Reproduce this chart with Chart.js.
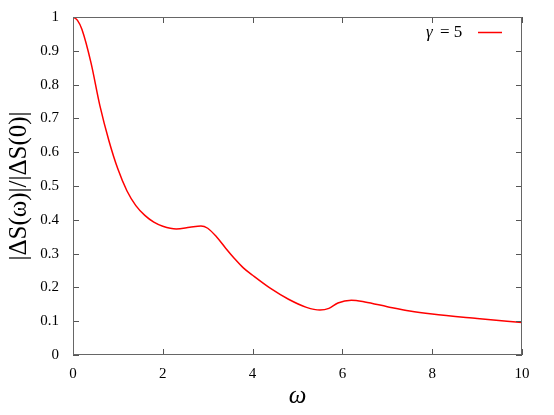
<!DOCTYPE html>
<html><head><meta charset="utf-8">
<script src="https://cdn.jsdelivr.net/npm/chart.js@4/dist/chart.umd.min.js"></script>
<style>html,body{margin:0;padding:0;background:#fff}#w{width:554px;height:415px}</style>
</head><body><div id="w"><canvas id="c"></canvas></div>
<script>
const omega = [0,0.1,0.2,0.4,0.6,0.8,1.0,1.2,1.4,1.6,1.8,2.0,2.3,2.6,2.85,3.0,3.2,3.4,3.6,3.8,4.0,4.4,4.8,5.2,5.5,5.7,5.9,6.2,6.5,7.0,7.5,8,9,10];
const ratio = [1.0,0.99,0.963,0.865,0.737,0.634,0.55,0.486,0.442,0.413,0.393,0.381,0.373,0.378,0.382,0.375,0.349,0.316,0.285,0.257,0.236,0.197,0.165,0.141,0.133,0.138,0.154,0.162,0.157,0.143,0.130,0.121,0.108,0.096];
const seriesLabel = 'γ = 5';
const xTicks = [0,2,4,6,8,10];
const yTicks = [0,0.1,0.2,0.3,0.4,0.5,0.6,0.7,0.8,0.9,1];
const SERIF = '"Liberation Serif", "DejaVu Serif", serif';

const ticksPlugin = {
  id:'inticks',
  afterDraw(chart){
    const {ctx, chartArea:a, scales:{x,y}} = chart;
    ctx.save();
    ctx.strokeStyle='#555'; ctx.lineWidth=1;
    ctx.beginPath();
    xTicks.forEach(v=>{const p=Math.round(x.getPixelForValue(v))+0.5;
      ctx.moveTo(p,a.bottom);ctx.lineTo(p,a.bottom-6);ctx.moveTo(p,a.top);ctx.lineTo(p,a.top+6);});
    yTicks.forEach(v=>{const p=Math.round(y.getPixelForValue(v))+0.5;
      ctx.moveTo(a.left,p);ctx.lineTo(a.left+6,p);ctx.moveTo(a.right,p);ctx.lineTo(a.right-6,p);});
    ctx.stroke();
    ctx.strokeStyle='#666';
    ctx.strokeRect(a.left+0.5,a.top+0.5,a.right-a.left-1,a.bottom-a.top-1);
    ctx.fillStyle='#000'; ctx.font='italic 17px '+SERIF; ctx.textBaseline='middle'; ctx.textAlign='left';
    ctx.fillText('γ', 426, 33);
    ctx.font='17px '+SERIF;
    ctx.fillText('= 5', 440, 33);
    ctx.strokeStyle='red'; ctx.lineWidth=1.5; ctx.beginPath(); ctx.moveTo(478,32.5); ctx.lineTo(502,32.5); ctx.stroke();
    ctx.restore();
  }
};

new Chart(document.getElementById('c'), {
  type:'line',
  data:{datasets:[{label:seriesLabel, data:omega.map((v,i)=>({x:v,y:ratio[i]})), borderColor:'red', borderWidth:1.5, pointRadius:0, cubicInterpolationMode:'monotone', fill:false}]},
  options:{
    responsive:true, maintainAspectRatio:false, animation:false,
    layout:{padding:{top:17,right:32,left:0,bottom:0}},
    plugins:{legend:{display:false}, tooltip:{enabled:false}},
    scales:{
      x:{type:'linear', min:0, max:10,
        afterBuildTicks(s){s.ticks=xTicks.map(v=>({value:v}));},
        afterFit(s){s.height=60;},
        grid:{display:false}, border:{display:false},
        ticks:{color:'#000', font:{family:SERIF,size:15}, padding:2, maxRotation:0},
        title:{display:true, text:'ω', color:'#000', font:{family:SERIF,size:25,style:'italic'}, padding:{top:4}}},
      y:{type:'linear', min:0, max:1,
        afterBuildTicks(s){s.ticks=yTicks.map(v=>({value:v}));},
        afterFit(s){s.width=73;},
        grid:{display:false}, border:{display:false},
        ticks:{color:'#000', font:{family:SERIF,size:15}, padding:6, callback:v=>String(Math.round(v*10)/10)},
        title:{display:true, text:'|ΔS(ω)|/|ΔS(0)|', color:'#000', font:{family:SERIF,size:25}, padding:{bottom:2}}}
    }
  },
  plugins:[ticksPlugin]
});
</script></body></html>
